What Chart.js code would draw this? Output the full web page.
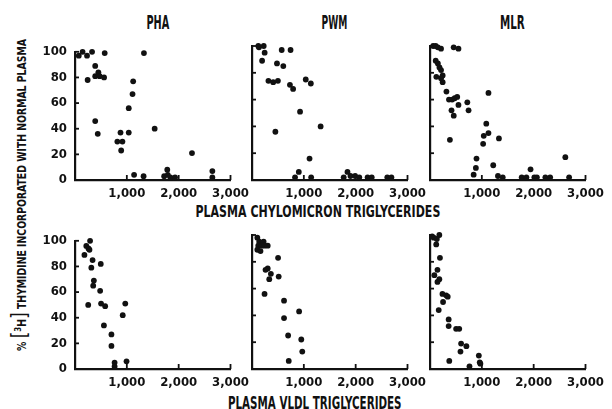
<!DOCTYPE html>
<html><head><meta charset="utf-8">
<script src="https://cdn.jsdelivr.net/npm/chart.js@4"></script>
<style>
html,body{margin:0;padding:0;background:#fff;}
#wrap{position:relative;width:612px;height:409px;overflow:hidden;background:#fff;}
canvas{position:absolute;}
.t{position:absolute;font-family:"Liberation Sans Narrow","DejaVu Sans Condensed","Roboto Condensed",sans-serif;font-weight:bold;color:#111;white-space:nowrap;transform-origin:center center;line-height:1;}
.br{font-size:22px;font-weight:normal;}
</style></head><body>
<div id="wrap">
  <div class="t fit" data-cx="158" data-cy="23" data-w="23" data-sy="1.2" style="font-size:16px">PHA</div>
  <div class="t fit" data-cx="334" data-cy="23" data-w="26" data-sy="1.2" style="font-size:16px">PWM</div>
  <div class="t fit" data-cx="512" data-cy="23" data-w="25" data-sy="1.2" style="font-size:16px">MLR</div>
  <div class="t fit" data-cx="318" data-cy="211" data-w="245" data-sy="1.15" style="font-size:14px">PLASMA CHYLOMICRON TRIGLYCERIDES</div>
  <div class="t fit" data-cx="315" data-cy="403" data-w="174" data-sy="1.2" style="font-size:14px">PLASMA VLDL TRIGLYCERIDES</div>
  <div class="t fit" data-cx="19" data-cy="195" data-w="312" data-sy="1" data-rot="1" style="font-size:12px">% <span class="br">[</span><sup style="font-size:9px">3</sup>H<span class="br">]</span> THYMIDINE INCORPORATED WITH NORMAL PLASMA</div>
</div>
<script>
// ---- data ----
const xTickValues = [1000, 2000, 3000];
const yTickValues = [0, 20, 40, 60, 80, 100];

const phaChyloX = [73,146,232,329,573,1330,390,390,451,476,561,244,390,439,1122,1110,1037,878,1037,817,915,891,1537,2257,1140,1323,1780,1720,1790,1840,1930,2650,2650];
const phaChyloY = [97,100,97,100,99,99,89,81,84,81,80,78,46,36,77,67,56,37,37,30,30,23,40,21,4,3,8,3,4,2,2,7,2];

const pwmChyloX = [122,134,226,244,195,573,744,482,604,317,409,500,1037,1135,732,793,927,451,1324,1110,903,830,1141,1842,1769,1900,1990,2070,2230,2310,2610,2690];
const pwmChyloY = [100,99,100,95,89,97,97,87,85,74,73,74,75,72,71,68,51,36,40,16,6,2,2,6,2,3,3,2,2,2,2,2];

const mlrChyloX = [61,110,152,213,457,549,110,152,183,213,244,213,244,122,317,366,427,476,525,549,415,458,720,744,384,1128,1086,1128,1037,1025,1330,897,885,842,1220,1311,1403,1769,1860,1940,2013,2062,2226,2318,2611,2684];
const mlrChyloY = [100,100,99,98,99,98,89,87,84,82,78,76,73,77,66,60,60,61,62,56,52,48,58,52,30,65,42,35,33,27,31,16,9,4,11,3,2,2,2,8,2,2,2,2,17,2];

const phaVldlX = [291,218,260,279,182,339,497,315,364,351,485,255,503,582,970,921,558,703,703,764,764,994];
const phaVldlY = [100,96,94,93,89,85,82,79,69,65,61,50,51,49,51,42,34,27,18,5,2,6];

const pwmVldlX = [103,139,224,121,182,242,303,103,164,503,303,261,364,333,515,242,618,909,618,697,951,970,709];
const pwmVldlY = [98,95,95,92,92,92,92,89,88,83,75,74,71,67,69,56,51,43,38,25,22,13,6];

const mlrVldlX = [42,72,180,132,120,192,144,84,180,144,240,312,342,252,168,360,360,504,564,600,702,588,372,762,942,960,972];
const mlrVldlY = [99,98,100,97,93,83,74,70,67,65,56,55,54,50,44,37,32,30,30,19,17,13,6,2,10,5,4];

// ---- layout ----
const FONT = '"Liberation Sans Narrow","DejaVu Sans Condensed","Roboto Condensed",sans-serif';
const INK = '#111';
const YAXW = 35, PADT = 10, PADR = 16, XAXH = 26, PW = 164, PH = 134;

function fmt(v){ return String(v).replace(/\B(?=(\d{3})+(?!\d))/g, ','); }

const inwardTicks = {
  id: 'inwardTicks',
  afterDraw(chart){
    const {ctx, chartArea, scales} = chart;
    ctx.save();
    ctx.strokeStyle = INK; ctx.lineWidth = 1.8;
    yTickValues.forEach(v => {
      if (v === 0) return;
      const y = scales.y.getPixelForValue(v);
      ctx.beginPath(); ctx.moveTo(chartArea.left, y); ctx.lineTo(chartArea.left + 4, y); ctx.stroke();
    });
    xTickValues.forEach(v => {
      const x = scales.x.getPixelForValue(v);
      ctx.beginPath(); ctx.moveTo(x, chartArea.bottom); ctx.lineTo(x, chartArea.bottom - 5); ctx.stroke();
    });
    ctx.restore();
  }
};

function panel(plotLeft, plotTop, xs, ys, showY){
  const c = document.createElement('canvas');
  c.width = YAXW + PW + PADR; c.height = PADT + PH + XAXH;
  c.style.left = (plotLeft - YAXW) + 'px';
  c.style.top = (plotTop - PADT) + 'px';
  document.getElementById('wrap').appendChild(c);
  new Chart(c, {
    type: 'scatter',
    data: { datasets: [{
      data: xs.map((x, i) => ({x: x, y: ys[i]})),
      pointRadius: 2.9, pointHoverRadius: 2.9,
      backgroundColor: INK, borderWidth: 0, clip: false
    }]},
    options: {
      responsive: false, animation: false, devicePixelRatio: 1, events: [],
      layout: { padding: { top: PADT, right: PADR, left: 0, bottom: 0 } },
      plugins: { legend: { display: false }, tooltip: { enabled: false } },
      scales: {
        x: {
          type: 'linear', min: 0, max: 3000,
          afterBuildTicks: s => { s.ticks = xTickValues.map(v => ({value: v})); },
          afterFit: s => { s.height = XAXH; },
          grid: { display: false, drawTicks: false },
          border: { display: true, color: INK, width: 2.2 },
          ticks: { padding: 6, color: INK, maxRotation: 0, autoSkip: false,
                   font: { family: FONT, size: 13, weight: 'bold' }, callback: v => fmt(v) }
        },
        y: {
          type: 'linear', min: 0, max: 100,
          afterBuildTicks: s => { s.ticks = yTickValues.map(v => ({value: v})); },
          afterFit: s => { s.width = YAXW; },
          grid: { display: false, drawTicks: false },
          border: { display: true, color: INK, width: 2.2 },
          ticks: { display: showY, padding: 8, color: INK,
                   font: { family: FONT, size: 13, weight: 'bold' } }
        }
      }
    },
    plugins: [inwardTicks]
  });
}

panel(75, 46, phaChyloX, phaChyloY, true);
panel(252, 46, pwmChyloX, pwmChyloY, false);
panel(430, 46, mlrChyloX, mlrChyloY, false);
panel(75, 235, phaVldlX, phaVldlY, true);
panel(252, 235, pwmVldlX, pwmVldlY, false);
panel(430, 235, mlrVldlX, mlrVldlY, false);

document.querySelectorAll('.fit').forEach(el => {
  const w = el.offsetWidth, h = el.offsetHeight;
  const cx = +el.dataset.cx, cy = +el.dataset.cy, tw = +el.dataset.w, sy = +(el.dataset.sy || 1);
  const rot = el.dataset.rot ? -90 : 0;
  el.style.left = (cx - w / 2) + 'px';
  el.style.top = (cy - h / 2) + 'px';
  el.style.transform = 'rotate(' + rot + 'deg) scale(' + (tw / w) + ',' + sy + ')';
});
</script>
</body></html>
